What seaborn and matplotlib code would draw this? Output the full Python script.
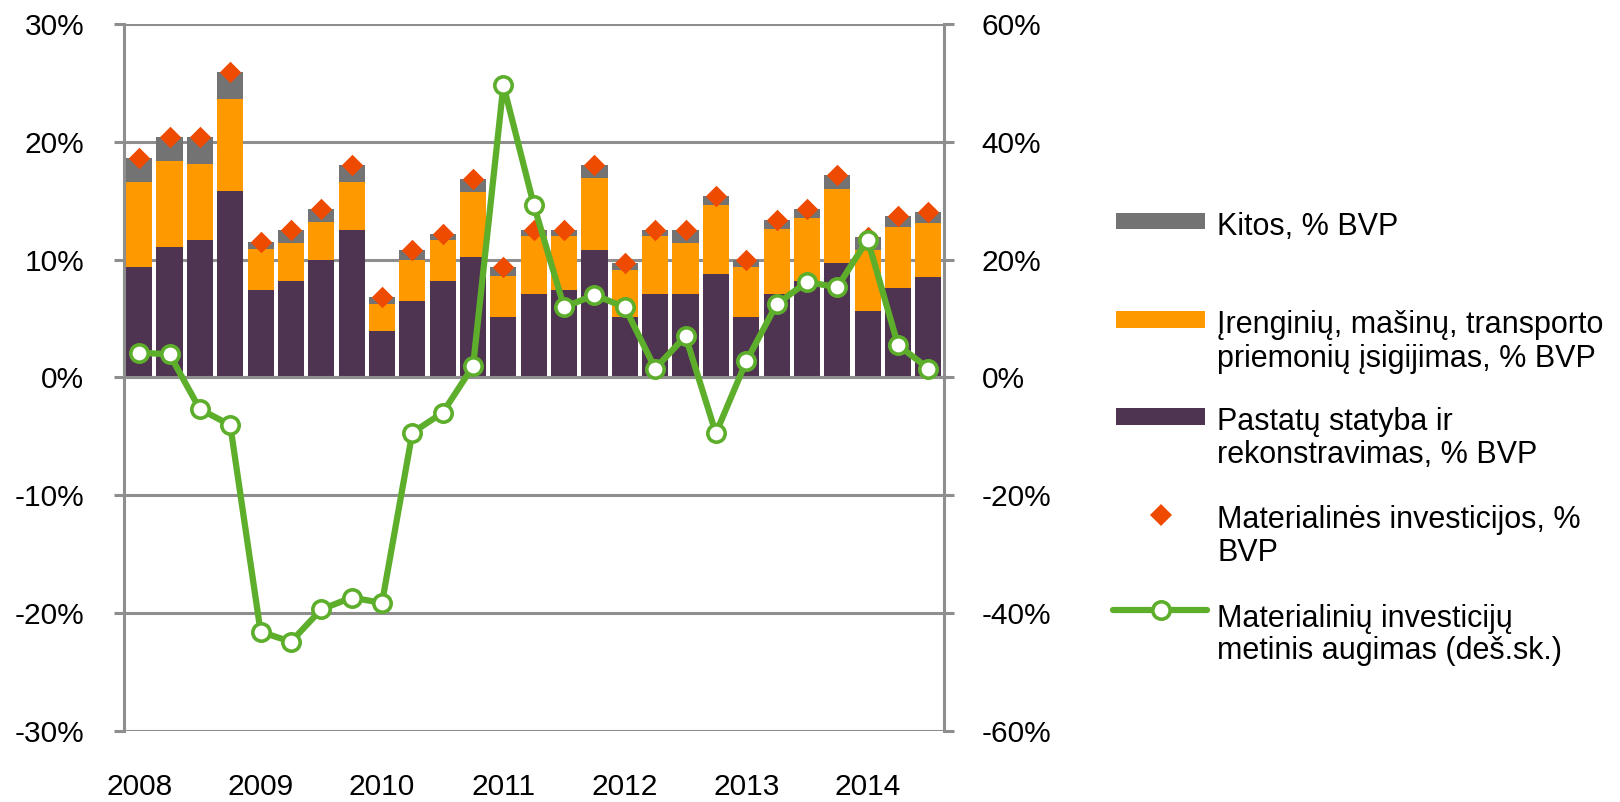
import numpy as np
import pandas as pd
import matplotlib
matplotlib.use("Agg")
import matplotlib.pyplot as plt
import seaborn as sns
from matplotlib.patches import Rectangle
from matplotlib.lines import Line2D

# ---------------- data ----------------
quarters = ["2008 Q1", "2008 Q2", "2008 Q3", "2008 Q4",
            "2009 Q1", "2009 Q2", "2009 Q3", "2009 Q4",
            "2010 Q1", "2010 Q2", "2010 Q3", "2010 Q4",
            "2011 Q1", "2011 Q2", "2011 Q3", "2011 Q4",
            "2012 Q1", "2012 Q2", "2012 Q3", "2012 Q4",
            "2013 Q1", "2013 Q2", "2013 Q3", "2013 Q4",
            "2014 Q1", "2014 Q2", "2014 Q3"]
years = ["2008", "2009", "2010", "2011", "2012", "2013", "2014"]

# Pastatų statyba ir rekonstravimas, % BVP
pastatu = [9.4, 11.1, 11.7, 15.8, 7.4, 8.2, 10.0, 12.5,
           3.9, 6.5, 8.2, 10.2, 5.1, 7.1, 7.4, 10.8,
           5.1, 7.1, 7.1, 8.8, 5.1, 7.1, 8.2, 9.7,
           5.6, 7.6, 8.5]
# Įrenginių, mašinų, transporto priemonių įsigijimas, % BVP
irenginiu = [7.2, 7.3, 6.4, 7.8, 3.5, 3.2, 3.2, 4.1,
             2.3, 3.5, 3.5, 5.5, 3.5, 4.9, 4.6, 6.1,
             4.0, 4.9, 4.3, 5.8, 4.3, 5.5, 5.3, 6.3,
             5.2, 5.2, 4.6]
# Kitos, % BVP
kitos = [2.0, 2.0, 2.3, 2.3, 0.6, 1.1, 1.1, 1.4,
         0.6, 0.8, 0.5, 1.1, 0.8, 0.5, 0.5, 1.1,
         0.6, 0.5, 1.1, 0.8, 0.6, 0.8, 0.8, 1.2,
         1.1, 0.9, 0.9]
# Materialinių investicijų metinis augimas (right axis), %
augimas = [4.2, 3.9, -5.4, -8.1, -43.2, -44.9, -39.4, -37.4,
           -38.3, -9.4, -6.0, 1.9, 49.6, 29.3, 11.9, 14.0,
           11.9, 1.5, 7.0, -9.5, 2.7, 12.4, 16.2, 15.3,
           23.4, 5.5, 1.5]

left_ticks = [-30, -20, -10, 0, 10, 20, 30]
left_labels = ["-30%", "-20%", "-10%", "0%", "10%", "20%", "30%"]
right_ticks = [-60, -40, -20, 0, 20, 40, 60]
right_labels = ["-60%", "-40%", "-20%", "0%", "20%", "40%", "60%"]

legend_labels = [
    ["Kitos, % BVP"],
    ["Įrenginių, mašinų, transporto", "priemonių įsigijimas, % BVP"],
    ["Pastatų statyba ir", "rekonstravimas, % BVP"],
    ["Materialinės investicijos, %", "BVP"],
    ["Materialinių investicijų", "metinis augimas (deš.sk.)"],
]

# ---------------- style ----------------
GREY = "#737373"
ORANGE = "#FF9900"
PURPLE = "#4F3451"
RED = "#EE4B00"
GREEN = "#5DAE2B"
GRID = "#8E8E8E"
FS = 21.5
FS_LEG = 22

sns.set_style("white")
plt.rcParams["font.family"] = ["Liberation Sans", "DejaVu Sans"]

W, H = 1620, 802
fig = plt.figure(figsize=(W / 100, H / 100), dpi=100)
ax_l, ax_r, ax_t, ax_b = 124, 943.5, 24, 730.7
ax = fig.add_axes([ax_l / W, 1 - ax_b / H, (ax_r - ax_l) / W, (ax_b - ax_t) / H])

lvl1 = np.array(pastatu)
lvl2 = lvl1 + np.array(irenginiu)
total = lvl2 + np.array(kitos)
df = pd.DataFrame({"ketv": quarters, "pastatu": lvl1, "lvl2": lvl2, "total": total})

bw = 0.86
sns.barplot(data=df, x="ketv", y="total", color=GREY, saturation=1, width=bw,
            errorbar=None, linewidth=0, ax=ax)
sns.barplot(data=df, x="ketv", y="lvl2", color=ORANGE, saturation=1, width=bw,
            errorbar=None, linewidth=0, ax=ax)
sns.barplot(data=df, x="ketv", y="pastatu", color=PURPLE, saturation=1, width=bw,
            errorbar=None, linewidth=0, ax=ax)

pos = np.arange(len(quarters))
sns.scatterplot(x=pos, y=total, marker="D", s=120, color=RED, linewidth=0,
                zorder=4, ax=ax)

ax2 = ax.twinx()
sns.lineplot(x=pos, y=augimas, ax=ax2, color=GREEN, linewidth=4.5,
             marker="o", markersize=12.5, markerfacecolor="white",
             markeredgecolor=GREEN, markeredgewidth=2.6, zorder=5)

# ---------------- axes ----------------
ax.set_xlim(-0.5, len(quarters) - 0.5)
ax2.set_xlim(-0.5, len(quarters) - 0.5)
ax.set_ylim(-30, 30)
ax2.set_ylim(-60, 60)
for a in (ax, ax2):
    a.set_xlabel("")
    a.set_ylabel("")

ax.set_axisbelow(True)
ax.yaxis.grid(True, color=GRID, linewidth=2.2)
ax.xaxis.grid(False)

for s in ("top", "right"):
    ax.spines[s].set_visible(False)
ax.spines["left"].set_color(GRID)
ax.spines["left"].set_linewidth(2.2)
ax.spines["bottom"].set_position(("data", 0))
ax.spines["bottom"].set_color(GRID)
ax.spines["bottom"].set_linewidth(2.2)
for s in ("top", "bottom", "left"):
    ax2.spines[s].set_visible(False)
ax2.spines["right"].set_color(GRID)
ax2.spines["right"].set_linewidth(2.2)

q1_pos = [i for i, q in enumerate(quarters) if q.endswith("Q1")]
boundaries = [p - 0.5 for p in q1_pos[1:]]
ax.set_xticks(boundaries)
ax.set_xticklabels([])
ax.tick_params(axis="x", direction="out", length=7.5, width=2.2, color=GRID,
               labelbottom=False)

ax.set_yticks(left_ticks)
ax.set_yticklabels(left_labels)
ax.tick_params(axis="y", direction="out", length=7.5, width=2.2, color=GRID,
               pad=21, labelsize=FS, labelcolor="black", left=True)

ax2.set_yticks(right_ticks)
ax2.set_yticklabels(right_labels)
ax2.tick_params(axis="y", direction="out", length=7.5, width=2.2, color=GRID,
                pad=20, labelsize=FS, labelcolor="black", right=True,
                labelright=True, left=False, labelleft=False)

for p, yr in zip(q1_pos, years):
    ax.text(p, (ax_b - 795.0) / (ax_b - ax_t), yr, transform=ax.get_xaxis_transform(),
            ha="center", va="baseline", fontsize=FS, color="black")

# ---------------- legend ----------------
def fx(x):
    return x / W


def fy(y):
    return 1 - y / H


hx0, hx1 = 1116, 1205
rect_specs = [(GREY, 212.7, 229.3), (ORANGE, 311.0, 327.7), (PURPLE, 408.5, 424.5)]
for col, y0, y1 in rect_specs:
    fig.add_artist(Rectangle((fx(hx0), fy(y1)), fx(hx1) - fx(hx0), fy(y0) - fy(y1),
                             transform=fig.transFigure, facecolor=col,
                             edgecolor="none"))
fig.add_artist(Line2D([fx(1160.7)], [fy(515)], transform=fig.transFigure,
                      marker="D", markersize=10.9, color=RED, linestyle="none",
                      markeredgewidth=0))
fig.add_artist(Line2D([fx(1113), fx(1207)], [fy(610), fy(610)],
                      transform=fig.transFigure, color=GREEN, linewidth=4.5,
                      solid_capstyle="round"))
fig.add_artist(Line2D([fx(1160.7)], [fy(610)], transform=fig.transFigure,
                      marker="o", markersize=12.5, markerfacecolor="white",
                      markeredgecolor=GREEN, markeredgewidth=2.6,
                      linestyle="none"))

baselines = [[235], [333.3, 366.5], [430, 463.3], [528.3, 561], [626.7, 659.5]]
for lines, bls in zip(legend_labels, baselines):
    for txt, bl in zip(lines, bls):
        fig.text(fx(1217), fy(bl), txt, ha="left", va="baseline",
                 fontsize=FS_LEG, color="black")

fig.savefig("out.png", dpi=100)
